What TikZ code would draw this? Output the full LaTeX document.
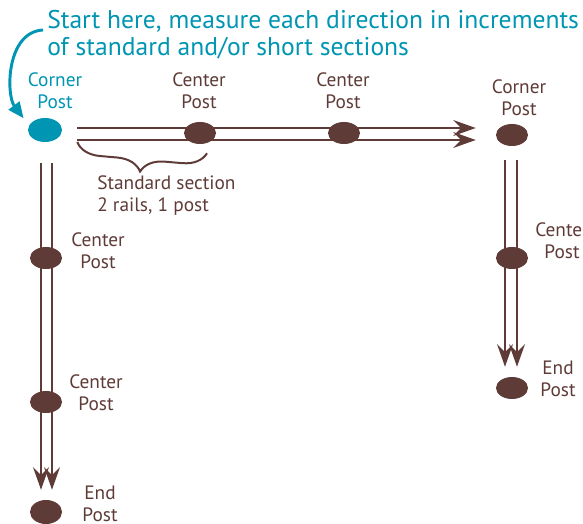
\documentclass[tikz,border=0pt]{standalone}
\usepackage{fontspec}
\setmainfont{PT Sans}
\usetikzlibrary{positioning,arrows.meta,decorations.pathreplacing,shapes.geometric,backgrounds}
\definecolor{teal}{RGB}{0,149,179}
\definecolor{wood}{RGB}{95,59,55}

\begin{document}
\begin{tikzpicture}[x=0.75pt,y=-0.75pt,
  post/.style={ellipse,fill=wood,minimum width=24pt,minimum height=16.5pt,inner sep=0},
  lbl/.style={text=wood,align=center,inner sep=0,font=\fontsize{14.5}{16.5}\selectfont},
  rail/.style={draw=wood,line width=1.5pt,-{Stealth[length=17pt,width=12pt,inset=6pt]}}]
  \clip (0,0) rectangle (583,524);
  % title and start pointer
  \node (title) [anchor=west,align=left,inner sep=0,text=teal,
    font=\fontsize{19.2}{20}\selectfont] at (47,35)
    {Start here, measure each direction in increments\\of standard and/or short sections};
  % posts
  \node (C0) [post,fill=teal,minimum width=25.5pt,minimum height=18pt] at (45,130) {};
  \node (P1) [post] at (200,133) {};
  \node (P2) [post] at (344,133) {};
  \node (C1) [post] at (512,135) {};
  \node (L1) [post] at (46,258) {};
  \node (L2) [post] at (46,402) {};
  \node (E1) [post,minimum height=18pt] at (46,512) {};
  \node (R1) [post] at (512,258) {};
  \node (E2) [post] at (512,388) {};
  % rails, behind the posts
  \begin{scope}[on background layer]
    \draw[rail] ([shift={(15,-2)}]C0.east) -- ([shift={(-20,-7)}]C1.west);
    \draw[rail] ([shift={(15,10)}]C0.east) -- ([shift={(-20,5)}]C1.west);
    \draw[rail] ([shift={(-4,21)}]C0.south) -- ([shift={(-5,-10)}]E1.north);
    \draw[rail] ([shift={(7,21)}]C0.south) -- ([shift={(6,-10)}]E1.north);
    \draw[rail] ([shift={(-7,14)}]C1.south) -- ([shift={(-7,-10)}]E2.north);
    \draw[rail] ([shift={(5,14)}]C1.south) -- ([shift={(5,-10)}]E2.north);
  \end{scope}
  \draw[teal,line width=2.2pt,-{Triangle[length=12pt,width=10pt]}]
    ([shift={(-4,-5)}]title.west) .. controls (6,32) and (6,95) .. ([shift={(-8,-4)}]C0.150);
  % labels
  \node (tC0) [lbl,text=teal] at (55,91) {Corner\\Post};
  \node (tP1) [lbl] at (199,91) {Center\\Post};
  \node (tP2) [lbl] at (343,91) {Center\\Post};
  \node (tC1) [lbl] at (519,98) {Corner\\Post};
  \node (tL1) [lbl] at (98,251) {Center\\Post};
  \node (tL2) [lbl] at (96,393) {Center\\Post};
  \node (tE1) [lbl] at (100,504) {End\\Post};
  \node (tR1) [lbl] at (562,241) {Center\\Post};
  \node (tE2) [lbl] at (558,379) {End\\Post};
  % standard section
  \draw[wood,line width=1.5pt,decorate,decoration={brace,mirror,amplitude=18pt,aspect=0.5}]
    ([shift={(15,12)}]C0.east) -- ([shift={(7,9)}]P1.south);
  \node (std) [lbl,align=left,anchor=west] at (97,196) {Standard section\\2 rails, 1 post};
\end{tikzpicture}
\end{document}
